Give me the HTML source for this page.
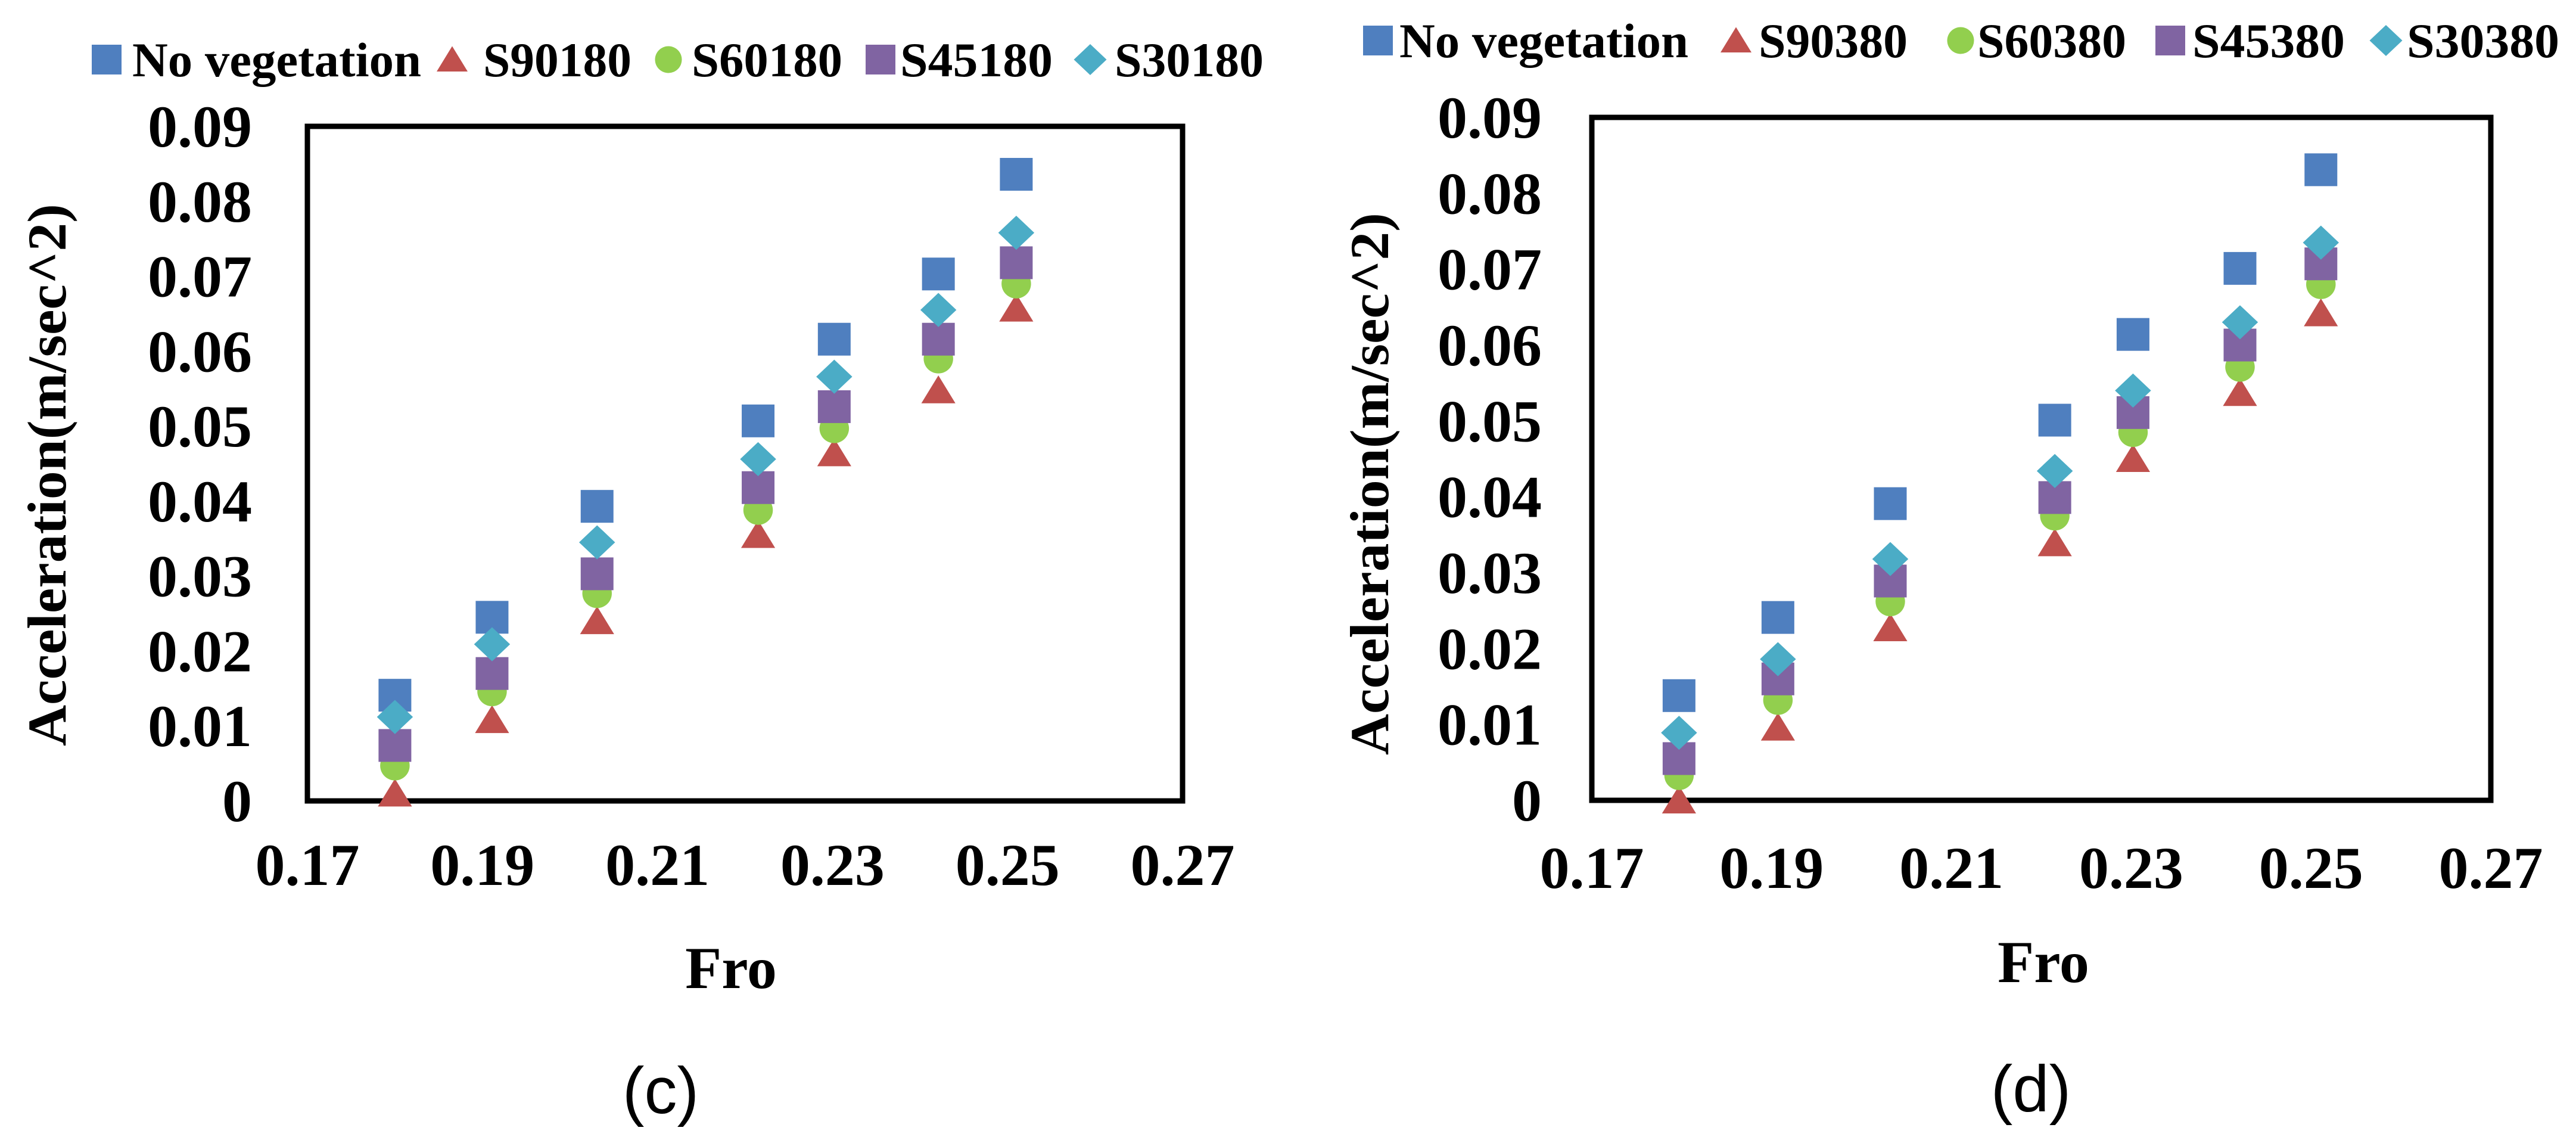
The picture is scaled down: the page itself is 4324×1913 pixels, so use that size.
<!DOCTYPE html>
<html><head><meta charset="utf-8"><style>
html,body{margin:0;padding:0;background:#fff;}
svg{display:block;}
text{font-family:"Liberation Serif",serif;font-weight:bold;fill:#000;}
</style></head><body>
<svg id="svg" width="4324" height="1913" viewBox="0 0 4324 1913" xmlns="http://www.w3.org/2000/svg">
<rect width="4324" height="1913" fill="#fff"/>
</svg>
<script>
const xTicks = [0.17, 0.19, 0.21, 0.23, 0.25, 0.27];
const yTicks = [0, 0.01, 0.02, 0.03, 0.04, 0.05, 0.06, 0.07, 0.08, 0.09];
const froC = [0.180, 0.1911, 0.2031, 0.2215, 0.2302, 0.2421, 0.2510];
const noVegC = [0.0141, 0.0245, 0.0393, 0.0507, 0.0616, 0.0703, 0.0836];
const s90C = [0.0010, 0.0108, 0.0240, 0.0355, 0.0464, 0.0548, 0.0657];
const s60C = [0.0047, 0.0146, 0.0277, 0.0388, 0.0497, 0.0590, 0.0690];
const s45C = [0.0074, 0.0170, 0.0303, 0.0418, 0.0526, 0.0616, 0.0718];
const s30C = [0.0112, 0.0209, 0.0345, 0.0456, 0.0566, 0.0655, 0.0758];
const froD = [0.1797, 0.1907, 0.2032, 0.2215, 0.2302, 0.2421, 0.2511];
const noVegD = [0.0138, 0.0241, 0.0391, 0.0501, 0.0614, 0.0701, 0.0831];
const s90D = [0.0000, 0.0096, 0.0227, 0.0339, 0.0450, 0.0537, 0.0642];
const s60D = [0.0033, 0.0132, 0.0262, 0.0375, 0.0485, 0.0571, 0.0680];
const s45D = [0.0055, 0.0160, 0.0289, 0.0399, 0.0511, 0.0600, 0.0707];
const s30D = [0.0089, 0.0186, 0.0318, 0.0434, 0.0540, 0.0630, 0.0735];
const namesC = ['No vegetation','S90180','S60180','S45180','S30180'];
const namesD = ['No vegetation','S90380','S60380','S45380','S30380'];

const NS='http://www.w3.org/2000/svg';
const svg=document.getElementById('svg');
const colors=['#4F7FBF','#C0504D','#92CF4E','#8064A2','#4BACC6'];
const shapes=['square','triangle','circle','square','diamond'];
function el(tag,attrs,parent,txt){const e=document.createElementNS(NS,tag);for(const k in attrs)e.setAttribute(k,attrs[k]);if(txt!==undefined)e.textContent=txt;(parent||svg).appendChild(e);return e;}
function marker(g,shape,cx,cy,color,s){
  let m;
  if(shape==='square') m=el('rect',{x:cx-s/2,y:cy-s/2,width:s,height:s,fill:color},g);
  else if(shape==='triangle') m=el('polygon',{points:`${cx},${cy-s*0.45} ${cx+s*0.52},${cy+s*0.4} ${cx-s*0.52},${cy+s*0.4}`,fill:color},g);
  else if(shape==='circle') m=el('circle',{cx:cx,cy:cy,r:s*0.45,fill:color},g);
  else m=el('polygon',{points:`${cx},${cy-s*0.52} ${cx+s*0.55},${cy} ${cx},${cy+s*0.52} ${cx-s*0.55},${cy}`,fill:color},g);
  return m;
}
function chart(id,box,fro,series,names,legend,opt){
  const g=el('g',{});
  
  
  const X=v=>box.l+(v-0.17)/0.1*(box.r-box.l);
  const Y=v=>box.b-(v/0.09)*(box.b-box.t);
  const frame=el('rect',{x:box.l,y:box.t,width:box.r-box.l,height:box.b-box.t,fill:'none',stroke:'#000','stroke-width':9},g);
  
  
  yTicks.forEach(v=>{const t=el('text',{x:opt.ylx,y:Y(v)+34,'text-anchor':'end','font-size':100},g,v===0?'0':v.toFixed(2));
    
    });
  xTicks.forEach(v=>{const t=el('text',{x:X(v),y:opt.xly,'text-anchor':'middle','font-size':100},g,v.toFixed(2));
    
    });
  const yt=el('text',{x:0,y:0,'text-anchor':'middle','font-size':92,transform:`translate(${opt.ytx},${opt.yty}) rotate(-90)`,textLength:910,lengthAdjust:'spacingAndGlyphs'},g,'Acceleration(m/sec^2)');
  
  
  const xt=el('text',{x:opt.xtx,y:opt.xty,'text-anchor':'middle','font-size':100},g,'Fro');
  
  
  const cap=el('text',{x:opt.capx,y:opt.capy,'text-anchor':'middle','font-size':110,style:'font-family:"Liberation Sans",sans-serif;font-weight:normal'},g,opt.cap);
  
  
  series.forEach((vals,si)=>{
    const sg=el('g',{},g);
    
    
    vals.forEach((v,i)=>{const m=marker(sg,shapes[si],X(fro[i]),Y(v),colors[si],55);
      
      });
  });
  names.forEach((n,i)=>{
    const lg=el('g',{},g);
    
    
    const L=legend[i];
    marker(lg,shapes[i],L.m,opt.legy,colors[i],50);
    el('text',{x:L.t0,y:opt.legy+28,'font-size':82,textLength:L.t1-L.t0,lengthAdjust:'spacingAndGlyphs'},lg,n);
  });
}
chart('chart-c',{l:516,r:1985,t:212,b:1344},froC,[noVegC,s90C,s60C,s45C,s30C],namesC,
 [{m:179,t0:222,t1:707},{m:759,t0:811,t1:1060},{m:1122,t0:1161,t1:1414},{m:1478,t0:1511,t1:1767},{m:1830,t0:1871,t1:2121}],
 {ylx:423,xly:1485,ytx:110,yty:797,xtx:1227,xty:1658,capx:1109,capy:1868,cap:'(c)',legy:100});
chart('chart-d',{l:2672,r:4181,t:197,b:1343},froD,[noVegD,s90D,s60D,s45D,s30D],namesD,
 [{m:2313,t0:2349,t1:2834},{m:2914,t0:2952,t1:3202},{m:3291,t0:3319,t1:3569},{m:3643,t0:3680,t1:3936},{m:4005,t0:4040,t1:4296}],
 {ylx:2588,xly:1490,ytx:2330,yty:812,xtx:3430,xty:1648,capx:3409,capy:1865,cap:'(d)',legy:68});
</script>
</body></html>
